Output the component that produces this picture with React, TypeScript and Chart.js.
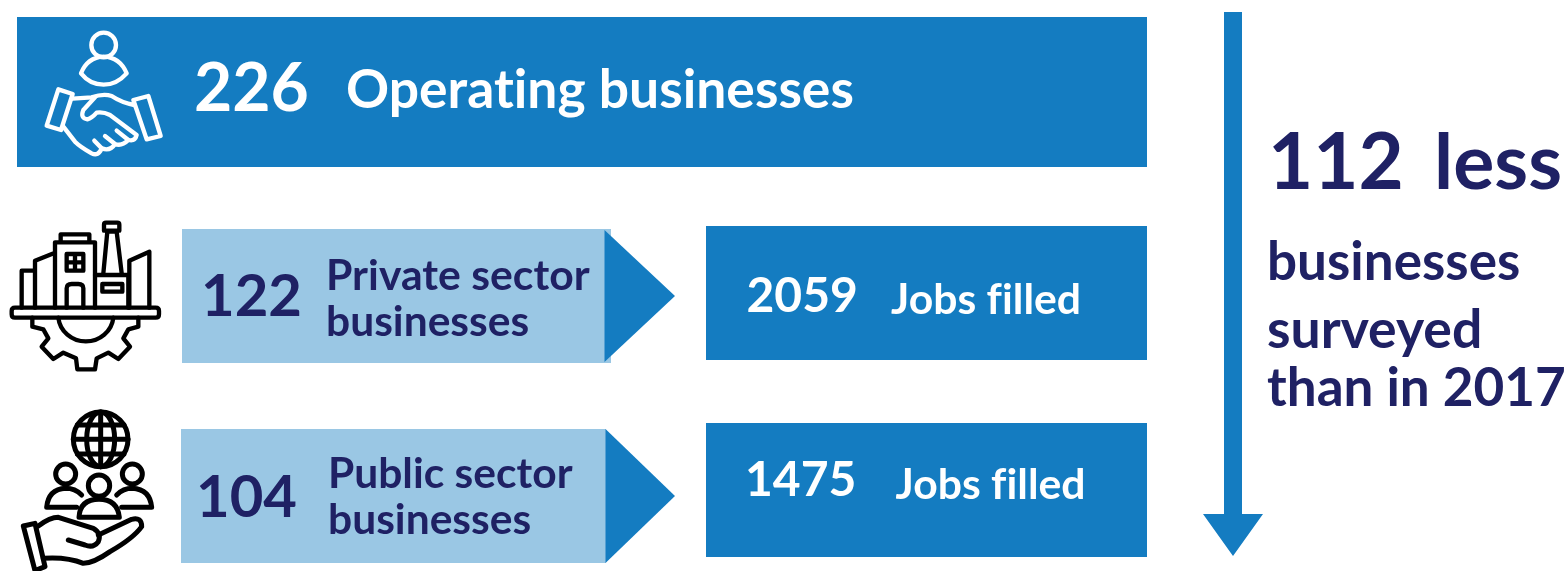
import React, { useEffect, useRef } from "react";
import { Chart, registerables } from "chart.js";

Chart.register(...registerables);

// ---- content -------------------------------------------------------------
const operatingBusinesses = 226;
const operatingLabel = "Operating businesses";
const sectorValues = [122, 104];
const sectorLabels = [["Private sector", "businesses"], ["Public sector", "businesses"]];
const jobsValues = [2059, 1475];
const jobsLabel = "Jobs filled";
const differenceValue = 112;
const differenceWord = "less";
const differenceLines = ["businesses", "surveyed", "than in 2017"];

const BLUE = "#147CC1";
const LIGHT = "#9AC7E4";
const NAVY = "#1F2164";
const WHITE = "#FFFFFF";
const W = 1568;
const H = 571;
const FONT = "Lato, 'Open Sans', sans-serif";

// ---- layout: [x, y] polygons in page units ---------------------------------
const rect = (x0: number, y0: number, x1: number, y1: number) => [[x0, y0], [x1, y0], [x1, y1], [x0, y1]];
const shapes: { pts: number[][]; color: string }[] = [
  { pts: [[1224, 12], [1242, 12], [1242, 514], [1263, 514], [1233, 556], [1203, 514], [1224, 514]], color: BLUE },
  { pts: [[604.5, 230], [675, 296], [604.5, 362]], color: BLUE },
  { pts: [[605.5, 429], [675, 496], [605.5, 563]], color: BLUE },
  { pts: rect(17, 17, 1147, 167), color: BLUE },
  { pts: rect(182, 229, 611, 363), color: LIGHT },
  { pts: rect(181, 429, 606, 563), color: LIGHT },
  { pts: rect(706, 226, 1147, 360), color: BLUE },
  { pts: rect(706, 423, 1147, 557), color: BLUE },
];

type T = { s: string; x: number; y: number; size: number; color: string; weight?: number };
const texts: T[] = [
  { s: String(operatingBusinesses), x: 194, y: 111, size: 66, color: WHITE },
  { s: operatingLabel, x: 346, y: 108, size: 53.4, color: WHITE },
  { s: String(sectorValues[0]), x: 201, y: 316, size: 58, color: NAVY },
  { s: sectorLabels[0][0], x: 326, y: 290, size: 42.7, color: NAVY },
  { s: sectorLabels[0][1], x: 326, y: 336, size: 42.5, color: NAVY },
  { s: String(sectorValues[1]), x: 196, y: 517, size: 58, color: NAVY },
  { s: sectorLabels[1][0], x: 328, y: 488, size: 42.5, color: NAVY },
  { s: sectorLabels[1][1], x: 328, y: 534, size: 42.5, color: NAVY },
  { s: String(jobsValues[0]), x: 746.5, y: 312, size: 48, color: WHITE },
  { s: jobsLabel, x: 891, y: 314, size: 42.7, color: WHITE },
  { s: String(jobsValues[1]), x: 745, y: 496, size: 48, color: WHITE },
  { s: jobsLabel, x: 895.5, y: 499, size: 42.7, color: WHITE },
  { s: String(differenceValue), x: 1268, y: 189, size: 78, color: NAVY },
  { s: differenceWord, x: 1434, y: 189, size: 77, color: NAVY },
  { s: differenceLines[0], x: 1267, y: 280, size: 53, color: NAVY },
  { s: differenceLines[1], x: 1267, y: 348, size: 53.5, color: NAVY },
  { s: differenceLines[2], x: 1267, y: 406, size: 53, color: NAVY },
];

// ---- icons: SVG paths in a 3x local grid -----------------------------------
const handshake = [
  "M274 105a37 37 0 1 0 74 0a37 37 0 1 0 -74 0",
  "M243 190Q262 142 311 140Q360 142 380 190Q350 224 311 224Q270 224 243 190Z",
  "M175 238L218 252L183 360L140 347Z",
  "M400 270L445 258L482 378L440 388Z",
  "M218 266L275 262Q310 250 335 258Q365 278 403 285",
  "M285 262L250 300Q240 325 262 328Q275 325 290 308Q310 305 330 315L410 375Q405 395 385 390L350 362",
  "M385 390Q365 410 345 402L315 378M345 402Q330 425 305 415L283 392",
  "M305 415Q295 440 275 430Q240 410 225 395L190 350",
];
const factory = [
  "M45 293H467Q477 293 477 303V313Q477 323 467 323H45Q35 323 35 313V303Q35 293 45 293Z",
  "M65 293V182H102M105 293V152L165 128M165 293V97H285V293M182 97V73H268V97",
  "M200 132H250V182H200ZM225 132V182M200 157H250",
  "M200 293V235Q200 222 215 222H235Q250 222 250 235V293",
  "M285 195H385V293M307 222H367V245H307Z",
  "M310 190L322 65H350L365 190M318 38H352Q358 38 358 44V62H312V44Q312 38 318 38Z",
  "M388 293V152L448 125V293",
  "M175 323A83 80 0 0 0 340 323",
  "M97 323V350L130 358L145 385L125 410L160 447L190 428L228 445L232 478H285L290 445L325 428L355 447L390 410L370 385L385 358L415 350V323",
];
const globeHand = [
  "M220 118a82 82 0 1 0 164 0a82 82 0 1 0 -164 0",
  "M260 118a42 82 0 1 0 84 0a42 82 0 1 0 -84 0",
  "M302 36V200M220 118H384M232 75H372M232 162H372",
  "M167 222a30 30 0 1 0 60 0a30 30 0 1 0 -60 0",
  "M367 222a30 30 0 1 0 60 0a30 30 0 1 0 -60 0",
  "M265 257a32 32 0 1 0 64 0a32 32 0 1 0 -64 0",
  "M230 322H140Q145 268 197 265Q225 265 245 285",
  "M365 322H455Q450 268 397 265Q370 265 350 285",
  "M237 352Q240 298 297 298Q352 298 358 352Z",
  "M70 378L105 370L135 500L105 512Z",
  "M115 378Q150 352 175 352L280 385Q305 400 295 425Q280 445 255 435L205 420",
  "M295 405L395 358Q425 350 425 380Q400 415 330 455Q280 490 250 490Q200 470 130 475",
];
const icons = [
  { paths: handshake, ox: 0, oy: 10, color: WHITE, width: 13 },
  { paths: factory, ox: 0, oy: 210, color: "#000000", width: 13 },
  { paths: globeHand, ox: 0, oy: 400, color: "#000000", width: 15 },
];

// ---- overlay plugin ------------------------------------------------------
const overlay = {
  id: "overlay",
  afterDatasetsDraw(chart: any) {
    const { ctx, scales } = chart;
    const px = (v: number) => scales.x.getPixelForValue(v);
    const py = (v: number) => scales.y.getPixelForValue(v);
    for (const ic of icons) {
      ctx.save();
      ctx.translate(px(ic.ox), py(ic.oy));
      ctx.scale(1 / 3, 1 / 3);
      ctx.strokeStyle = ic.color;
      ctx.lineWidth = ic.width;
      ctx.lineJoin = "round";
      ctx.lineCap = "round";
      for (const d of ic.paths) ctx.stroke(new Path2D(d));
      ctx.restore();
    }
    ctx.save();
    ctx.textAlign = "left";
    ctx.textBaseline = "alphabetic";
    ctx.letterSpacing = "0.02px"; // also turns off the "ti" ligature, as in the reference
    for (const t of texts) {
      ctx.font = `${t.weight ?? 700} ${t.size}px ${FONT}`;
      ctx.fillStyle = t.color;
      ctx.fillText(t.s, px(t.x), py(t.y));
    }
    ctx.restore();
  },
};

export default function App() {
  const ref = useRef<HTMLCanvasElement>(null);
  useEffect(() => {
    document.body.style.margin = "0";
    const chart = new Chart(ref.current!, {
      type: "scatter",
      data: {
        datasets: shapes.map((s) => ({
          data: s.pts.map(([x, y]) => ({ x, y })),
          showLine: true,
          fill: "shape",
          backgroundColor: s.color,
          borderColor: s.color,
          borderWidth: 0,
          pointRadius: 0,
          tension: 0,
        })),
      },
      options: {
        animation: false,
        responsive: false,
        layout: { padding: 0 },
        plugins: { legend: { display: false }, tooltip: { enabled: false } },
        scales: {
          x: { type: "linear", display: false, min: 0, max: W },
          y: { type: "linear", display: false, min: 0, max: H, reverse: true },
        },
      },
      plugins: [overlay],
    } as any);
    return () => chart.destroy();
  }, []);
  return <canvas ref={ref} width={W} height={H} style={{ display: "block", width: W, height: H }} />;
}
